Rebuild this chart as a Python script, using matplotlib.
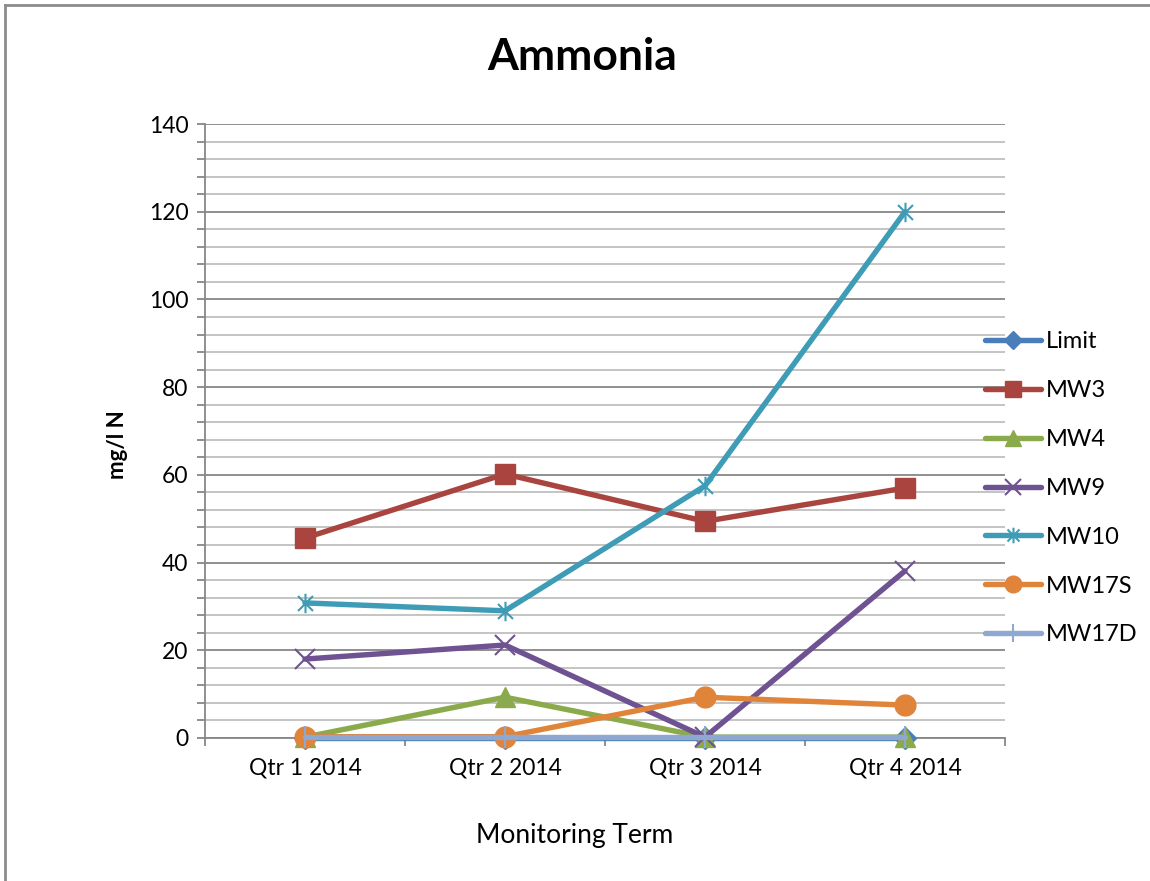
import matplotlib
matplotlib.use("Agg")
import matplotlib.pyplot as plt
from matplotlib.path import Path
from matplotlib.lines import Line2D

plt.rcParams['font.family'] = ['Lato', 'DejaVu Sans']

quarters = ["Qtr 1 2014", "Qtr 2 2014", "Qtr 3 2014", "Qtr 4 2014"]
limit = [0, 0, 0, 0]
mw3 = [45.6, 60.2, 49.4, 57.0]
mw4 = [0.2, 9.3, 0.2, 0.2]
mw9 = [18.0, 21.2, 0.2, 38.1]
mw10 = [30.8, 29.0, 57.5, 120.0]
mw17s = [0.3, 0.3, 9.3, 7.5]
mw17d = [0.2, 0.2, 0.2, 0.2]

# asterisk marker: an x with a vertical stroke
star = Path([(-1, -1), (1, 1), (-1, 1), (1, -1), (0, -1.3), (0, 1.3)],
            [Path.MOVETO, Path.LINETO, Path.MOVETO, Path.LINETO, Path.MOVETO, Path.LINETO])

series = [
    ("Limit", limit, "#4A7EBB", "D", 11, None),
    ("MW3", mw3, "#A9443F", "s", 14, None),
    ("MW4", mw4, "#8BAA4B", "^", 14, None),
    ("MW9", mw9, "#6E5291", "x", 15, 1.5),
    ("MW10", mw10, "#3E9CB6", star, 14, 1.5),
    ("MW17S", mw17s, "#E0843A", "o", 15, None),
    ("MW17D", mw17d, "#8EA8D2", "|", 16, 1.5),
]

fig = plt.figure(figsize=(11.5, 8.81), dpi=100)
ax = fig.add_axes([205 / 1150, (881 - 738) / 881, 800 / 1150, 614 / 881])

x = [i + 0.5 for i in range(len(quarters))]
handles = []
for name, vals, col, mk, ms, mew in series:
    kw = dict(color=col, lw=3.9, marker=mk, markersize=ms, label=name,
              solid_capstyle='round', clip_on=False, zorder=3)
    if mew is not None:
        kw.update(markeredgewidth=mew, markeredgecolor=col, markerfacecolor='none')
    else:
        kw.update(markeredgecolor=col, markerfacecolor=col)
    ln, = ax.plot(x, vals, **kw)
    handles.append(ln)

ax.set_xlim(0, 4)
ax.set_ylim(0, 140)
ax.set_yticks(range(0, 141, 20))
ax.set_yticks(range(0, 141, 4), minor=True)
ax.set_xticks(range(0, 5))
ax.set_xticks(x, minor=True)
ax.set_xticklabels([])
ax.set_xticklabels(quarters, minor=True)

ax.grid(axis='y', which='major', color='#878787', lw=1.3)
ax.grid(axis='y', which='minor', color='#BFBFBF', lw=1.3)
ax.set_axisbelow(True)
for s in ['top', 'right']:
    ax.spines[s].set_visible(False)
for s in ['left', 'bottom']:
    ax.spines[s].set_color('#878787')
    ax.spines[s].set_linewidth(1.3)

ax.tick_params(axis='y', which='both', direction='out', length=6, width=1.3,
               color='#878787', labelsize=16.5, pad=6)
ax.tick_params(axis='x', which='major', direction='out', length=6, width=1.3,
               color='#878787')
ax.tick_params(axis='x', which='minor', length=0, labelsize=16.5, pad=14)

fig.text(118 / 1150, 1 - 445 / 881, "mg/l N", fontsize=16, fontweight='bold',
         rotation=90, ha='center', va='center')
fig.text(575 / 1150, 1 - 836 / 881, "Monitoring Term", fontsize=19,
         ha='center', va='center')
fig.text(582 / 1150, 1 - 57 / 881, "Ammonia", fontsize=32, fontweight='bold',
         ha='center', va='center')

fig.legend(handles=handles, loc='upper left', bbox_to_anchor=(964 / 1150, 1 - 310 / 881),
           frameon=False, fontsize=17, handlelength=2.37, handletextpad=0.2,
           labelspacing=1.18, markerscale=0.8)

# outer chart border (top and left visible)
fig.add_artist(Line2D([5 / 1150, 5 / 1150], [0, 1 - 5 / 881], color='#8C8C8C', lw=2,
                      transform=fig.transFigure))
fig.add_artist(Line2D([5 / 1150, 1], [1 - 5 / 881, 1 - 5 / 881], color='#8C8C8C', lw=2,
                      transform=fig.transFigure))

fig.savefig("out.png", dpi=100)
